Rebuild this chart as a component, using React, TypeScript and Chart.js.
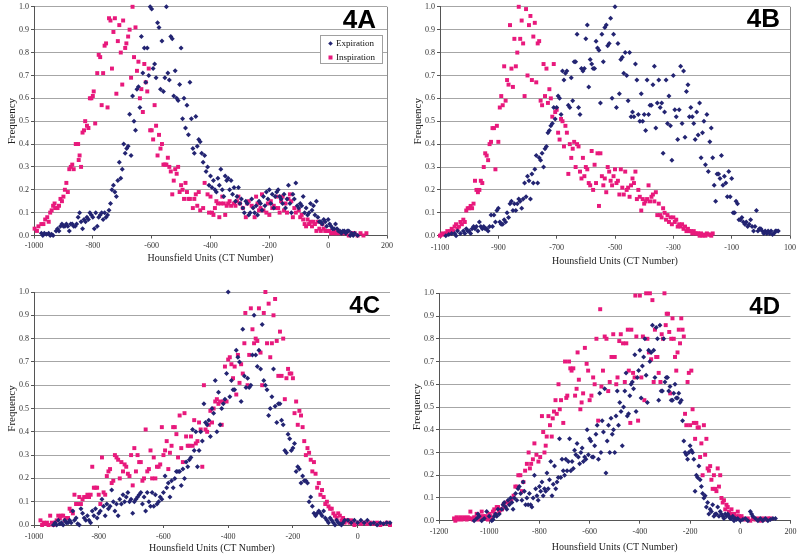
import React, { useEffect, useRef } from 'react';
import { Chart, registerables } from 'chart.js';

Chart.register(...registerables);

// ---------- DATA (HU, frequency) ----------
const xTitle = 'Hounsfield Units (CT Number)';
const yTitle = 'Frequency';
const seriesNames = ['Expiration', 'Inspiration'];
const panelLabels = ['4A', '4B', '4C', '4D'];
const xMins = [-1000, -1100, -1000, -1200];
const xMaxs = [200, 100, 100, 200];

const expA: number[][] = [
  [-975,0.01],[-970,0.0],[-965,0.01],[-958,0.005],[-950,0.01],[-945,0.0],[-940,0.005],[-935,0.0],[-925,0.02],[-920,0.03],[-915,0.02],[-910,0.04],[-905,0.05],[-900,0.04],[-895,0.04],[-890,0.05],[-885,0.04],[-880,0.02],[-875,0.05],[-870,0.05],[-865,0.04],[-860,0.04],[-855,0.05],[-850,0.08],[-845,0.1],[-840,0.06],[-835,0.03],[-830,0.07],[-825,0.06],[-820,0.08],[-815,0.07],[-810,0.1],[-805,0.09],[-800,0.08],[-795,0.03],[-790,0.1],[-785,0.04],[-780,0.08],[-775,0.09],[-770,0.1],[-765,0.07],[-760,0.1],[-755,0.08],[-750,0.09],[-745,0.11],[-740,0.14],[-735,0.2],[-730,0.22],[-725,0.19],[-720,0.17],[-715,0.24],[-710,0.32],[-705,0.25],[-700,0.29],[-695,0.4],[-690,0.36],[-685,0.38],[-680,0.39],[-675,0.53],[-670,0.35],[-665,0.61],[-660,0.5],[-655,0.46],[-650,0.64],[-645,0.65],[-640,0.56],[-635,0.87],[-630,0.71],[-625,0.82],[-620,0.67],[-615,0.82],[-610,0.7],[-605,1.0],[-600,0.99],[-595,0.73],[-590,0.75],[-585,0.69],[-580,0.93],[-575,0.91],[-570,0.64],[-565,0.85],[-560,0.63],[-555,0.69],[-550,1.0],[-545,0.71],[-540,0.68],[-535,0.87],[-530,0.86],[-525,0.61],[-520,0.72],[-515,0.6],[-510,0.59],[-505,0.66],[-500,0.82],[-495,0.51],[-490,0.6],[-485,0.47],[-480,0.57],[-475,0.44],[-470,0.67],[-465,0.51],[-460,0.38],[-455,0.36],[-450,0.52],[-445,0.39],[-440,0.42],[-435,0.41],[-430,0.36],[-425,0.32],[-420,0.35],[-415,0.28],[-410,0.3],[-405,0.22],[-400,0.26],[-395,0.21],[-390,0.24],[-385,0.2],[-380,0.19],[-375,0.25],[-370,0.22],[-365,0.29],[-360,0.2],[-355,0.17],[-350,0.26],[-345,0.24],[-340,0.25],[-335,0.2],[-330,0.24],[-325,0.18],[-320,0.21],[-315,0.15],[-310,0.17],[-305,0.21],[-300,0.14],[-295,0.16],[-290,0.12],[-285,0.1],[-280,0.15],[-275,0.14],[-270,0.09],[-265,0.1],[-260,0.16],[-255,0.12],[-250,0.1],[-245,0.13],[-240,0.09],[-235,0.15],[-230,0.14],[-225,0.11],[-220,0.17],[-215,0.13],[-210,0.19],[-205,0.16],[-200,0.2],[-195,0.14],[-190,0.18],[-185,0.12],[-180,0.17],[-175,0.19],[-170,0.2],[-165,0.17],[-160,0.16],[-155,0.14],[-150,0.18],[-145,0.12],[-140,0.16],[-135,0.22],[-130,0.14],[-125,0.1],[-120,0.18],[-115,0.16],[-110,0.23],[-105,0.13],[-100,0.12],[-95,0.14],[-90,0.13],[-85,0.17],[-80,0.1],[-75,0.12],[-70,0.09],[-65,0.1],[-60,0.14],[-55,0.11],[-50,0.13],[-45,0.09],[-40,0.15],[-35,0.08],[-30,0.06],[-25,0.06],[-20,0.05],[-15,0.07],[-10,0.06],[-5,0.04],[0,0.07],[5,0.05],[10,0.04],[15,0.03],[20,0.03],[25,0.05],[30,0.03],[35,0.02],[40,0.02],[45,0.01],[50,0.02],[55,0.02],[60,0.01],[65,0.02],[70,0.02],[75,0.0],[80,0.01],[85,0.0],[90,0.01],[100,0.0]
];

const insA: number[][] = [
  [-998,0.03],[-990,0.02],[-985,0.04],[-975,0.05],[-968,0.05],[-962,0.07],[-955,0.08],[-950,0.06],[-945,0.1],[-940,0.11],[-935,0.13],[-930,0.14],[-928,0.12],[-920,0.12],[-915,0.13],[-910,0.16],[-905,0.15],[-900,0.17],[-895,0.2],[-890,0.23],[-885,0.19],[-880,0.29],[-875,0.3],[-870,0.31],[-865,0.29],[-858,0.4],[-850,0.4],[-848,0.33],[-845,0.35],[-840,0.3],[-835,0.45],[-830,0.46],[-826,0.5],[-820,0.48],[-815,0.47],[-810,0.6],[-805,0.6],[-800,0.61],[-797,0.63],[-792,0.49],[-785,0.71],[-780,0.79],[-775,0.78],[-770,0.57],[-765,0.71],[-760,0.83],[-755,0.84],[-750,0.56],[-745,0.95],[-740,0.94],[-735,0.73],[-730,0.89],[-725,0.95],[-720,0.62],[-715,0.85],[-710,0.92],[-705,0.8],[-700,0.66],[-697,0.94],[-690,0.82],[-686,0.84],[-680,0.87],[-675,0.9],[-670,0.69],[-665,1.0],[-660,0.78],[-655,0.91],[-650,0.72],[-645,0.76],[-640,0.6],[-635,0.64],[-630,0.54],[-625,0.75],[-620,0.67],[-615,0.63],[-610,0.73],[-605,0.46],[-600,0.46],[-595,0.42],[-590,0.57],[-585,0.48],[-580,0.35],[-575,0.44],[-570,0.38],[-565,0.4],[-560,0.31],[-555,0.31],[-550,0.31],[-545,0.34],[-540,0.3],[-535,0.28],[-530,0.18],[-525,0.24],[-520,0.29],[-515,0.27],[-510,0.3],[-505,0.19],[-500,0.22],[-495,0.2],[-490,0.16],[-485,0.23],[-480,0.19],[-475,0.16],[-470,0.16],[-460,0.12],[-455,0.16],[-450,0.18],[-445,0.13],[-440,0.19],[-435,0.11],[-425,0.12],[-420,0.23],[-410,0.18],[-405,0.1],[-400,0.17],[-395,0.1],[-390,0.09],[-385,0.12],[-380,0.15],[-375,0.14],[-370,0.08],[-365,0.14],[-360,0.17],[-355,0.14],[-350,0.09],[-345,0.13],[-340,0.14],[-335,0.15],[-330,0.13],[-320,0.14],[-315,0.13],[-310,0.15],[-305,0.17],[-300,0.14],[-290,0.12],[-280,0.08],[-275,0.14],[-270,0.15],[-260,0.13],[-250,0.08],[-245,0.17],[-240,0.14],[-235,0.11],[-230,0.12],[-225,0.18],[-220,0.11],[-210,0.1],[-205,0.14],[-200,0.09],[-195,0.15],[-190,0.12],[-185,0.13],[-180,0.12],[-175,0.17],[-170,0.12],[-165,0.1],[-160,0.15],[-155,0.17],[-150,0.11],[-145,0.14],[-140,0.1],[-135,0.16],[-130,0.18],[-125,0.15],[-120,0.08],[-115,0.12],[-110,0.1],[-100,0.11],[-95,0.08],[-90,0.09],[-85,0.07],[-80,0.05],[-75,0.04],[-70,0.07],[-65,0.05],[-60,0.06],[-55,0.04],[-50,0.06],[-45,0.05],[-40,0.02],[-35,0.06],[-30,0.03],[-25,0.02],[-20,0.05],[-15,0.03],[-10,0.02],[-5,0.02],[0,0.02],[5,0.02],[10,0.01],[15,0.01],[20,0.02],[25,0.01],[30,0.01],[40,0.01],[50,0.01],[60,0.01],[70,0.0],[80,0.01],[90,0.01],[100,0.0],[110,0.01],[120,0.0],[130,0.01]
];

const expB: number[][] = [
  [-1080,0.0],[-1070,0.005],[-1060,0.01],[-1050,0.01],[-1045,0.0],[-1040,0.02],[-1030,0.01],[-1020,0.02],[-1015,0.01],[-1010,0.03],[-1005,0.02],[-1000,0.02],[-995,0.01],[-990,0.03],[-985,0.04],[-980,0.03],[-975,0.04],[-970,0.02],[-965,0.06],[-960,0.04],[-955,0.03],[-950,0.04],[-945,0.03],[-940,0.03],[-935,0.02],[-930,0.04],[-925,0.09],[-920,0.04],[-915,0.09],[-910,0.06],[-905,0.11],[-900,0.12],[-895,0.06],[-890,0.05],[-885,0.05],[-880,0.07],[-875,0.06],[-870,0.1],[-865,0.08],[-860,0.14],[-855,0.15],[-850,0.11],[-845,0.14],[-840,0.11],[-835,0.14],[-830,0.16],[-825,0.15],[-820,0.12],[-815,0.16],[-810,0.23],[-805,0.17],[-800,0.26],[-795,0.24],[-790,0.16],[-785,0.27],[-780,0.23],[-775,0.29],[-770,0.35],[-765,0.23],[-760,0.34],[-755,0.33],[-750,0.36],[-745,0.3],[-740,0.38],[-735,0.39],[-730,0.45],[-725,0.46],[-720,0.48],[-715,0.49],[-710,0.56],[-705,0.51],[-700,0.56],[-695,0.61],[-690,0.6],[-685,0.53],[-680,0.72],[-675,0.68],[-670,0.71],[-665,0.72],[-660,0.57],[-655,0.56],[-650,0.69],[-645,0.59],[-640,0.76],[-635,0.76],[-630,0.88],[-625,0.56],[-620,0.53],[-615,0.73],[-610,0.72],[-605,0.73],[-600,0.86],[-595,0.92],[-590,0.65],[-585,0.77],[-580,0.75],[-575,0.73],[-570,0.73],[-565,0.85],[-560,0.82],[-555,0.81],[-550,0.58],[-545,0.88],[-540,0.76],[-535,0.91],[-530,0.92],[-525,0.83],[-520,0.84],[-515,0.95],[-510,0.6],[-505,0.88],[-500,1.0],[-495,0.56],[-490,0.84],[-485,0.62],[-480,0.77],[-475,0.78],[-470,0.71],[-465,0.8],[-460,0.7],[-455,0.59],[-450,0.8],[-445,0.52],[-440,0.54],[-435,0.52],[-430,0.75],[-425,0.68],[-420,0.53],[-415,0.5],[-410,0.62],[-405,0.5],[-400,0.53],[-395,0.46],[-390,0.68],[-385,0.53],[-380,0.57],[-375,0.57],[-370,0.66],[-365,0.74],[-360,0.47],[-355,0.58],[-350,0.68],[-345,0.56],[-340,0.58],[-335,0.36],[-330,0.54],[-325,0.68],[-320,0.49],[-315,0.61],[-310,0.48],[-305,0.33],[-300,0.7],[-295,0.55],[-290,0.52],[-285,0.42],[-280,0.55],[-275,0.74],[-270,0.49],[-265,0.72],[-260,0.43],[-255,0.63],[-250,0.66],[-245,0.52],[-240,0.56],[-235,0.52],[-230,0.49],[-225,0.42],[-220,0.54],[-215,0.44],[-210,0.58],[-205,0.34],[-200,0.45],[-195,0.5],[-190,0.31],[-185,0.53],[-180,0.28],[-175,0.41],[-170,0.47],[-165,0.34],[-160,0.22],[-155,0.15],[-150,0.27],[-145,0.27],[-140,0.25],[-135,0.35],[-130,0.22],[-125,0.26],[-120,0.23],[-115,0.17],[-110,0.28],[-105,0.17],[-100,0.25],[-95,0.1],[-90,0.1],[-85,0.15],[-80,0.14],[-75,0.07],[-70,0.07],[-65,0.08],[-60,0.06],[-55,0.05],[-50,0.06],[-45,0.04],[-40,0.05],[-35,0.07],[-30,0.04],[-25,0.02],[-20,0.04],[-15,0.11],[-10,0.02],[-5,0.03],[0,0.03],[5,0.02],[10,0.01],[15,0.02],[20,0.01],[25,0.02],[30,0.01],[35,0.02],[40,0.005],[45,0.01],[50,0.02],[55,0.02],[60,0.02]
];

const insB: number[][] = [
  [-1100,0.0],[-1095,0.005],[-1090,0.01],[-1085,0.005],[-1080,0.01],[-1075,0.02],[-1070,0.01],[-1065,0.02],[-1060,0.03],[-1055,0.02],[-1050,0.04],[-1045,0.05],[-1040,0.03],[-1035,0.04],[-1030,0.06],[-1025,0.05],[-1020,0.07],[-1015,0.06],[-1010,0.11],[-1005,0.12],[-1000,0.12],[-995,0.13],[-990,0.12],[-985,0.14],[-980,0.24],[-975,0.2],[-970,0.19],[-965,0.2],[-960,0.24],[-955,0.23],[-950,0.3],[-945,0.36],[-940,0.35],[-935,0.33],[-930,0.4],[-925,0.41],[-920,0.47],[-915,0.47],[-910,0.29],[-905,0.48],[-900,0.41],[-895,0.56],[-890,0.61],[-885,0.57],[-880,0.74],[-875,0.59],[-870,0.68],[-865,0.66],[-860,0.92],[-855,0.73],[-850,0.65],[-845,0.86],[-840,0.74],[-835,0.8],[-830,1.0],[-825,0.86],[-820,0.94],[-815,0.84],[-810,0.61],[-805,0.99],[-800,0.7],[-795,0.92],[-790,0.96],[-785,0.68],[-780,0.87],[-775,0.93],[-770,0.67],[-765,0.84],[-760,0.85],[-755,0.59],[-750,0.57],[-745,0.75],[-740,0.61],[-735,0.73],[-730,0.58],[-725,0.64],[-720,0.6],[-715,0.52],[-710,0.75],[-705,0.54],[-700,0.55],[-695,0.45],[-690,0.42],[-685,0.51],[-680,0.5],[-675,0.39],[-670,0.48],[-665,0.45],[-660,0.27],[-655,0.4],[-650,0.34],[-645,0.38],[-640,0.41],[-635,0.3],[-630,0.4],[-625,0.39],[-620,0.28],[-615,0.25],[-610,0.34],[-605,0.26],[-600,0.3],[-595,0.29],[-590,0.23],[-585,0.22],[-580,0.37],[-575,0.2],[-570,0.31],[-565,0.23],[-560,0.36],[-555,0.13],[-550,0.36],[-545,0.26],[-540,0.22],[-535,0.25],[-530,0.19],[-525,0.3],[-520,0.28],[-515,0.24],[-510,0.22],[-505,0.26],[-500,0.29],[-495,0.23],[-490,0.24],[-485,0.18],[-480,0.29],[-475,0.21],[-470,0.18],[-465,0.28],[-460,0.2],[-455,0.21],[-450,0.17],[-445,0.22],[-440,0.25],[-435,0.23],[-430,0.28],[-425,0.16],[-420,0.2],[-415,0.17],[-410,0.11],[-405,0.16],[-400,0.14],[-395,0.15],[-390,0.16],[-385,0.22],[-380,0.15],[-375,0.17],[-370,0.18],[-365,0.15],[-360,0.19],[-355,0.09],[-350,0.14],[-345,0.09],[-340,0.08],[-335,0.12],[-330,0.1],[-325,0.07],[-320,0.09],[-315,0.06],[-310,0.08],[-305,0.05],[-300,0.08],[-295,0.06],[-290,0.07],[-285,0.04],[-280,0.05],[-275,0.04],[-270,0.05],[-265,0.03],[-260,0.04],[-255,0.02],[-250,0.03],[-245,0.02],[-240,0.02],[-235,0.01],[-230,0.02],[-225,0.01],[-220,0.01],[-215,0.01],[-210,0.0],[-205,0.01],[-200,0.0],[-195,0.005],[-190,0.0],[-185,0.01],[-180,0.005],[-175,0.005],[-170,0.0],[-165,0.01]
];

const expC: number[][] = [
  [-940,0.0],[-935,0.01],[-930,0.0],[-925,0.02],[-920,0.005],[-915,0.01],[-910,0.0],[-905,0.02],[-900,0.01],[-895,0.01],[-890,0.02],[-885,0.01],[-880,0.06],[-875,0.02],[-870,0.03],[-865,0.005],[-860,0.0],[-855,0.07],[-850,0.05],[-845,0.03],[-840,0.02],[-835,0.04],[-830,0.02],[-825,0.01],[-820,0.06],[-815,0.04],[-810,0.07],[-805,0.03],[-800,0.05],[-795,0.06],[-790,0.11],[-785,0.08],[-780,0.04],[-775,0.09],[-770,0.07],[-765,0.08],[-760,0.15],[-755,0.1],[-750,0.06],[-745,0.09],[-740,0.04],[-735,0.11],[-730,0.09],[-725,0.13],[-720,0.1],[-715,0.12],[-710,0.14],[-705,0.1],[-700,0.11],[-695,0.05],[-690,0.1],[-685,0.11],[-680,0.12],[-675,0.13],[-670,0.14],[-665,0.09],[-660,0.12],[-655,0.06],[-650,0.14],[-645,0.1],[-640,0.08],[-635,0.14],[-630,0.08],[-625,0.13],[-620,0.09],[-615,0.1],[-610,0.12],[-605,0.11],[-600,0.14],[-595,0.21],[-590,0.16],[-585,0.18],[-580,0.12],[-575,0.19],[-570,0.16],[-565,0.2],[-560,0.23],[-555,0.23],[-550,0.23],[-545,0.17],[-540,0.24],[-535,0.2],[-530,0.27],[-525,0.25],[-520,0.28],[-515,0.29],[-510,0.41],[-505,0.32],[-500,0.4],[-495,0.25],[-490,0.32],[-485,0.4],[-480,0.36],[-475,0.52],[-470,0.44],[-465,0.43],[-460,0.45],[-455,0.38],[-450,0.5],[-445,0.48],[-440,0.62],[-435,0.4],[-430,0.57],[-425,0.43],[-420,0.5],[-415,0.52],[-410,0.54],[-405,0.65],[-400,1.0],[-395,0.55],[-390,0.62],[-385,0.58],[-380,0.58],[-375,0.75],[-370,0.72],[-365,0.7],[-360,0.53],[-355,0.84],[-350,0.64],[-345,0.59],[-340,0.63],[-335,0.59],[-330,0.6],[-325,0.73],[-320,0.9],[-315,0.73],[-310,0.68],[-305,0.75],[-300,0.67],[-295,0.86],[-290,0.62],[-285,0.6],[-280,0.58],[-275,0.47],[-270,0.5],[-265,0.55],[-260,0.67],[-255,0.51],[-250,0.44],[-245,0.52],[-240,0.52],[-235,0.45],[-230,0.43],[-225,0.32],[-220,0.31],[-215,0.39],[-210,0.37],[-205,0.32],[-200,0.33],[-195,0.35],[-190,0.23],[-185,0.25],[-180,0.24],[-175,0.18],[-170,0.21],[-165,0.19],[-160,0.19],[-155,0.18],[-150,0.1],[-145,0.12],[-140,0.08],[-135,0.05],[-130,0.04],[-125,0.05],[-120,0.06],[-115,0.05],[-110,0.04],[-105,0.06],[-100,0.03],[-95,0.02],[-90,0.01],[-85,0.03],[-80,0.02],[-75,0.01],[-70,0.0],[-65,0.02],[-60,0.01],[-55,0.005],[-50,0.0],[-45,0.01],[-40,0.02],[-30,0.02],[-20,0.01],[-10,0.02],[0,0.01],[10,0.02],[20,0.01],[30,0.02],[40,0.005],[50,0.01],[60,0.0],[70,0.01],[80,0.005],[90,0.01],[100,0.01]
];

const insC: number[][] = [
  [-980,0.02],[-975,0.0],[-970,0.01],[-965,0.005],[-960,0.01],[-955,0.0],[-950,0.04],[-945,0.01],[-940,0.0],[-935,0.01],[-930,0.02],[-925,0.04],[-920,0.03],[-915,0.04],[-910,0.04],[-905,0.02],[-900,0.03],[-895,0.03],[-890,0.07],[-885,0.06],[-880,0.05],[-875,0.13],[-870,0.09],[-865,0.09],[-860,0.12],[-855,0.09],[-850,0.11],[-845,0.12],[-840,0.12],[-835,0.13],[-830,0.12],[-825,0.13],[-820,0.25],[-815,0.16],[-810,0.16],[-805,0.16],[-800,0.13],[-795,0.09],[-790,0.29],[-785,0.14],[-780,0.13],[-775,0.21],[-770,0.23],[-765,0.24],[-760,0.18],[-755,0.19],[-750,0.3],[-745,0.29],[-740,0.28],[-735,0.2],[-730,0.27],[-725,0.23],[-720,0.26],[-715,0.25],[-710,0.22],[-705,0.21],[-700,0.3],[-695,0.17],[-690,0.33],[-685,0.23],[-680,0.3],[-675,0.27],[-670,0.27],[-665,0.19],[-660,0.2],[-655,0.41],[-650,0.23],[-645,0.24],[-640,0.32],[-635,0.2],[-630,0.29],[-625,0.2],[-620,0.25],[-615,0.25],[-610,0.26],[-605,0.42],[-600,0.3],[-595,0.32],[-590,0.36],[-585,0.24],[-580,0.31],[-575,0.34],[-570,0.42],[-565,0.42],[-560,0.39],[-555,0.29],[-550,0.47],[-545,0.33],[-540,0.27],[-535,0.48],[-530,0.38],[-525,0.34],[-520,0.34],[-515,0.38],[-510,0.34],[-505,0.45],[-500,0.35],[-495,0.36],[-490,0.44],[-485,0.41],[-480,0.25],[-475,0.6],[-470,0.41],[-465,0.4],[-460,0.43],[-455,0.49],[-450,0.44],[-445,0.5],[-440,0.53],[-435,0.54],[-430,0.52],[-425,0.53],[-420,0.43],[-415,0.53],[-410,0.68],[-405,0.53],[-400,0.71],[-395,0.72],[-390,0.69],[-385,0.63],[-380,0.68],[-375,0.56],[-370,0.73],[-365,0.61],[-360,0.69],[-355,0.65],[-350,0.78],[-347,0.91],[-340,0.6],[-335,0.73],[-330,0.93],[-325,0.84],[-320,0.78],[-315,0.8],[-310,0.79],[-305,0.93],[-300,0.74],[-295,0.6],[-290,0.91],[-285,1.0],[-280,0.78],[-275,0.95],[-270,0.72],[-265,0.78],[-260,0.9],[-255,0.97],[-250,0.79],[-245,0.64],[-240,0.83],[-235,0.64],[-230,0.8],[-225,0.54],[-220,0.63],[-215,0.67],[-210,0.65],[-205,0.65],[-200,0.63],[-195,0.48],[-190,0.53],[-185,0.43],[-180,0.49],[-175,0.47],[-170,0.42],[-165,0.36],[-160,0.3],[-155,0.33],[-150,0.31],[-145,0.28],[-140,0.23],[-135,0.27],[-130,0.22],[-125,0.16],[-120,0.18],[-115,0.13],[-110,0.15],[-105,0.12],[-100,0.09],[-95,0.1],[-90,0.08],[-85,0.07],[-80,0.07],[-75,0.05],[-70,0.04],[-65,0.03],[-60,0.05],[-55,0.04],[-50,0.02],[-45,0.03],[-40,0.01],[-35,0.02],[-30,0.02],[-25,0.01],[-20,0.02],[-15,0.01],[-10,0.0],[0,0.01],[10,0.005],[20,0.01],[30,0.005],[40,0.01],[50,0.005],[60,0.01],[70,0.0],[80,0.005],[90,0.01],[100,0.0]
];

const expD: number[][] = [
  [-1060,0.0],[-1050,0.01],[-1045,0.03],[-1040,0.02],[-1030,0.0],[-1020,0.01],[-1010,0.04],[-1000,0.02],[-990,0.0],[-985,0.005],[-980,0.02],[-975,0.03],[-970,0.02],[-965,0.05],[-960,0.03],[-950,0.05],[-945,0.07],[-940,0.08],[-935,0.06],[-930,0.05],[-925,0.09],[-920,0.07],[-915,0.1],[-910,0.08],[-905,0.05],[-900,0.1],[-895,0.12],[-890,0.09],[-885,0.14],[-880,0.15],[-875,0.12],[-870,0.09],[-865,0.17],[-860,0.13],[-855,0.07],[-850,0.1],[-845,0.07],[-840,0.12],[-835,0.07],[-830,0.06],[-825,0.1],[-820,0.2],[-815,0.14],[-810,0.11],[-805,0.09],[-800,0.15],[-795,0.13],[-790,0.17],[-785,0.11],[-780,0.14],[-775,0.13],[-770,0.21],[-765,0.14],[-760,0.18],[-755,0.26],[-750,0.11],[-745,0.16],[-740,0.24],[-735,0.14],[-730,0.17],[-725,0.19],[-720,0.36],[-715,0.19],[-710,0.27],[-705,0.22],[-700,0.2],[-695,0.27],[-690,0.22],[-685,0.26],[-680,0.36],[-675,0.22],[-670,0.26],[-665,0.23],[-660,0.31],[-655,0.29],[-650,0.34],[-645,0.28],[-640,0.25],[-635,0.3],[-630,0.32],[-625,0.26],[-620,0.28],[-615,0.27],[-610,0.4],[-605,0.29],[-600,0.36],[-595,0.35],[-590,0.28],[-585,0.28],[-580,0.33],[-575,0.38],[-570,0.42],[-565,0.27],[-560,0.56],[-555,0.3],[-550,0.44],[-545,0.39],[-540,0.58],[-535,0.21],[-530,0.35],[-525,0.42],[-520,0.3],[-515,0.45],[-510,0.38],[-505,0.4],[-500,0.3],[-495,0.46],[-490,0.57],[-485,0.42],[-480,0.52],[-475,0.48],[-470,0.33],[-465,0.5],[-460,0.57],[-455,0.65],[-450,0.46],[-445,0.47],[-440,0.55],[-435,0.6],[-430,0.61],[-425,0.58],[-420,0.73],[-415,0.48],[-410,0.63],[-405,0.66],[-400,0.75],[-395,0.54],[-390,0.68],[-385,0.72],[-380,0.8],[-375,0.64],[-370,0.52],[-365,0.75],[-360,0.7],[-355,0.74],[-350,0.86],[-345,0.75],[-340,0.63],[-335,0.85],[-330,0.8],[-325,0.53],[-320,0.86],[-315,0.57],[-310,0.57],[-305,0.8],[-300,0.61],[-295,0.63],[-290,0.63],[-285,0.57],[-280,0.59],[-275,0.53],[-270,0.53],[-265,0.56],[-260,0.6],[-255,0.54],[-250,0.54],[-245,0.56],[-240,0.52],[-235,0.53],[-230,0.44],[-225,0.35],[-220,0.3],[-215,0.29],[-210,0.27],[-205,0.3],[-200,0.33],[-195,0.31],[-190,0.3],[-185,0.27],[-180,0.13],[-175,0.2],[-170,0.19],[-165,0.24],[-160,0.18],[-155,0.15],[-150,0.12],[-145,0.1],[-140,0.11],[-135,0.06],[-130,0.08],[-125,0.03],[-120,0.05],[-115,0.04],[-110,0.07],[-105,0.02],[-100,0.03],[-95,0.03],[-90,0.06],[-85,0.02],[-80,0.04],[-75,0.03],[-70,0.02],[-65,0.01],[-60,0.03],[-55,0.02],[-50,0.03],[-45,0.02],[-40,0.01],[-35,0.01],[-30,0.02],[-25,0.0],[-20,0.01],[-15,0.005],[-10,0.01],[0,0.0],[10,0.005],[20,0.01],[30,0.0],[40,0.04],[45,0.03],[50,0.02],[60,0.01],[70,0.0],[80,0.01],[90,0.0],[100,0.01],[110,0.0],[120,0.005],[130,0.01],[140,0.01]
];

const insD: number[][] = [
  [-1140,0.01],[-1135,0.0],[-1130,0.015],[-1125,0.005],[-1120,0.01],[-1115,0.015],[-1110,0.005],[-1105,0.01],[-1100,0.015],[-1095,0.01],[-1090,0.005],[-1085,0.015],[-1080,0.01],[-1075,0.04],[-1070,0.01],[-1065,0.005],[-1060,0.015],[-1055,0.01],[-1050,0.03],[-1045,0.005],[-1040,0.02],[-1035,0.01],[-1030,0.04],[-1025,0.02],[-1020,0.01],[-1015,0.02],[-1010,0.01],[-1005,0.005],[-1000,0.03],[-995,0.02],[-990,0.01],[-985,0.04],[-980,0.05],[-975,0.03],[-970,0.06],[-965,0.06],[-960,0.04],[-955,0.05],[-949,0.05],[-943,0.07],[-936,0.06],[-929,0.08],[-920,0.08],[-912,0.09],[-903,0.11],[-896,0.15],[-890,0.15],[-884,0.2],[-876,0.2],[-870,0.13],[-864,0.17],[-857,0.22],[-850,0.25],[-843,0.3],[-838,0.23],[-833,0.25],[-826,0.27],[-820,0.34],[-812,0.29],[-804,0.26],[-797,0.28],[-790,0.46],[-785,0.39],[-780,0.3],[-775,0.33],[-771,0.37],[-764,0.46],[-758,0.42],[-751,0.37],[-747,0.45],[-742,0.48],[-736,0.53],[-731,0.47],[-724,0.6],[-719,0.49],[-714,0.53],[-705,0.43],[-698,0.7],[-693,0.54],[-689,0.55],[-682,0.7],[-677,0.67],[-672,0.66],[-665,0.67],[-658,0.55],[-652,0.58],[-648,0.74],[-643,0.62],[-637,0.49],[-632,0.52],[-626,0.56],[-619,0.76],[-612,0.69],[-606,0.66],[-600,0.53],[-593,0.55],[-586,0.63],[-580,0.6],[-573,0.8],[-566,0.44],[-558,0.93],[-553,0.59],[-547,0.66],[-540,0.81],[-533,0.8],[-526,0.57],[-520,0.61],[-513,0.72],[-506,0.82],[-500,0.72],[-494,0.6],[-489,0.63],[-482,0.79],[-476,0.82],[-467,0.78],[-460,0.61],[-454,0.78],[-448,0.84],[-444,0.66],[-438,0.43],[-434,0.84],[-427,0.65],[-421,0.63],[-418,0.99],[-414,0.81],[-407,0.44],[-400,0.99],[-394,0.63],[-388,0.81],[-382,0.53],[-375,1.0],[-370,0.8],[-364,0.74],[-360,1.0],[-355,0.71],[-350,0.97],[-345,0.61],[-340,0.84],[-335,0.72],[-330,0.72],[-325,0.65],[-318,0.61],[-313,0.82],[-308,0.8],[-302,1.0],[-297,0.86],[-293,0.91],[-288,0.91],[-283,0.83],[-279,0.56],[-275,0.8],[-270,0.89],[-265,0.8],[-260,0.72],[-255,0.66],[-250,0.74],[-245,0.84],[-240,0.78],[-235,0.89],[-230,0.84],[-225,0.81],[-220,0.47],[-215,0.42],[-210,0.61],[-205,0.65],[-200,0.42],[-195,0.66],[-190,0.49],[-185,0.43],[-180,0.36],[-175,0.43],[-170,0.41],[-165,0.41],[-160,0.28],[-155,0.34],[-150,0.2],[-145,0.42],[-140,0.29],[-135,0.36],[-130,0.23],[-125,0.22],[-120,0.24],[-115,0.18],[-110,0.14],[-105,0.2],[-100,0.14],[-95,0.13],[-90,0.23],[-85,0.15],[-80,0.2],[-75,0.1],[-70,0.08],[-65,0.09],[-60,0.05],[-55,0.07],[-50,0.06],[-45,0.04],[-40,0.03],[-35,0.05],[-30,0.02],[-25,0.03],[-20,0.01],[-15,0.02],[-10,0.04],[-5,0.02],[0,0.01],[5,0.02],[10,0.01],[20,0.005],[30,0.01],[40,0.0],[50,0.01],[60,0.005],[70,0.01],[80,0.0],[90,0.01],[100,0.005],[110,0.01],[120,0.01]
];

const expSeries = [expA, expB, expC, expD];
const insSeries = [insA, insB, insC, insD];

// ---------- STYLE / LAYOUT ----------
const NAVY = '#232472';
const PINK = '#e8197c';
const SERIF = '"Liberation Serif", "Times New Roman", serif';

const layouts = [
  { left: 0, top: 0, w: 400, h: 278, yW: 34, xH: 42.5, padTop: 6.5, padRight: 13, yTitlePad: 5.4, xTitlePad: 14, tickPad: 3, rightBorder: true, lblX: 376, lblY: 28, lblSize: 26, legend: true },
  { left: 400, top: 0, w: 400, h: 278, yW: 40, xH: 42.3, padTop: 6.7, padRight: 10, yTitlePad: 11.4, xTitlePad: 11, tickPad: 4, rightBorder: true, lblX: 380, lblY: 27, lblSize: 26, legend: false },
  { left: 0, top: 278, w: 400, h: 279, yW: 34, xH: 32, padTop: 14, padRight: 10, yTitlePad: 5.4, xTitlePad: 3, tickPad: 4, rightBorder: false, lblX: 380, lblY: 35, lblSize: 24, legend: false },
  { left: 400, top: 278, w: 400, h: 279, yW: 39, xH: 36.3, padTop: 15.3, padRight: 9, yTitlePad: 10.4, xTitlePad: 4, tickPad: 3.5, rightBorder: false, lblX: 380, lblY: 36, lblSize: 24, legend: false },
];

const decoPlugin = {
  id: 'deco',
  afterDraw(chart: any, _args: any, opts: any) {
    const { ctx, chartArea } = chart;
    ctx.save();
    if (opts.rightBorder) {
      ctx.strokeStyle = '#8c8c8c';
      ctx.lineWidth = 1;
      const x = Math.round(chartArea.right) + 0.5;
      ctx.beginPath();
      ctx.moveTo(x, chartArea.top);
      ctx.lineTo(x, chartArea.bottom);
      ctx.stroke();
    }
    ctx.fillStyle = '#000';
    ctx.font = `bold ${opts.lblSize}px "Liberation Sans", Arial, sans-serif`;
    ctx.textAlign = 'right';
    ctx.textBaseline = 'alphabetic';
    ctx.fillText(opts.label, opts.lblX, opts.lblY);
    if (opts.legend) {
      const bx = 320.5, by = 35.5, bw = 62, bh = 28;
      ctx.fillStyle = '#fff';
      ctx.fillRect(bx, by, bw, bh);
      ctx.strokeStyle = '#a0a0a0';
      ctx.lineWidth = 1;
      ctx.strokeRect(bx, by, bw, bh);
      ctx.fillStyle = NAVY;
      const dx = 330.5, dy = 43.5, r = 2.3;
      ctx.beginPath();
      ctx.moveTo(dx, dy - r); ctx.lineTo(dx + r, dy); ctx.lineTo(dx, dy + r); ctx.lineTo(dx - r, dy); ctx.closePath();
      ctx.fill();
      ctx.fillStyle = PINK;
      ctx.fillRect(328.5, 55.5, 4, 4);
      ctx.fillStyle = '#111';
      ctx.font = `9px ${SERIF}`;
      ctx.textAlign = 'left';
      ctx.textBaseline = 'middle';
      ctx.fillText(opts.names[0], 336, 44);
      ctx.fillText(opts.names[1], 336, 57.5);
    }
    ctx.restore();
  },
};

function makeConfig(i: number) {
  const L = layouts[i];
  const toPts = (a: number[][]) => a.map(([x, y]) => ({ x, y }));
  return {
    type: 'scatter',
    data: {
      datasets: [
        {
          label: seriesNames[0],
          data: toPts(expSeries[i]),
          pointStyle: 'rectRot',
          pointRadius: 2.5,
          backgroundColor: NAVY,
          borderColor: NAVY,
          borderWidth: 0,
          clip: false,
        },
        {
          label: seriesNames[1],
          data: toPts(insSeries[i]),
          pointStyle: 'rect',
          pointRadius: 2.8,
          backgroundColor: PINK,
          borderColor: PINK,
          borderWidth: 0,
          clip: false,
        },
      ],
    },
    options: {
      animation: false,
      responsive: false,
      maintainAspectRatio: false,
      events: [],
      layout: { padding: { top: L.padTop, right: L.padRight, left: 0, bottom: 0 } },
      plugins: {
        legend: { display: false },
        tooltip: { enabled: false },
        deco: { ...L, label: panelLabels[i], names: seriesNames },
      },
      scales: {
        x: {
          type: 'linear',
          position: 'bottom',
          min: xMins[i],
          max: xMaxs[i],
          ticks: {
            stepSize: 200,
            includeBounds: false,
            autoSkip: false,
            maxRotation: 0,
            padding: L.tickPad,
            color: '#333',
            font: { family: SERIF, size: 8 },
            callback: (v: any) => String(v),
          },
          grid: { drawOnChartArea: false, drawTicks: true, tickLength: 3, tickColor: '#555' },
          border: { color: '#555', width: 1 },
          title: {
            display: true,
            text: xTitle,
            color: '#222',
            font: { family: SERIF, size: 10 },
            padding: { top: 0, bottom: L.xTitlePad },
          },
          afterFit: (s: any) => { s.height = L.xH; },
        },
        y: {
          type: 'linear',
          min: 0,
          max: 1,
          ticks: {
            stepSize: 0.1,
            padding: 2,
            color: '#333',
            font: { family: SERIF, size: 8 },
            callback: (v: any) => Number(v).toFixed(1),
          },
          grid: { color: '#a6a6a6', lineWidth: 1, drawTicks: true, tickLength: 3, tickColor: '#555' },
          border: { color: '#555', width: 1 },
          title: {
            display: true,
            text: yTitle,
            color: '#222',
            font: { family: SERIF, size: 11 },
            padding: { top: L.yTitlePad, bottom: 0 },
          },
          afterFit: (s: any) => { s.width = L.yW; },
        },
      },
    },
    plugins: [decoPlugin],
  } as any;
}

function Panel({ index }: { index: number }) {
  const ref = useRef<HTMLCanvasElement | null>(null);
  const L = layouts[index];
  useEffect(() => {
    if (!ref.current) return;
    const chart = new Chart(ref.current, makeConfig(index));
    return () => chart.destroy();
  }, [index]);
  return (
    <canvas
      ref={ref}
      width={L.w}
      height={L.h}
      style={{ position: 'absolute', left: L.left, top: L.top, width: L.w, height: L.h }}
    />
  );
}

export default function App() {
  return (
    <div style={{ position: 'absolute', left: 0, top: 0, width: 800, height: 557, background: '#fff', overflow: 'hidden' }}>
      {[0, 1, 2, 3].map((i) => (
        <Panel key={i} index={i} />
      ))}
    </div>
  );
}
